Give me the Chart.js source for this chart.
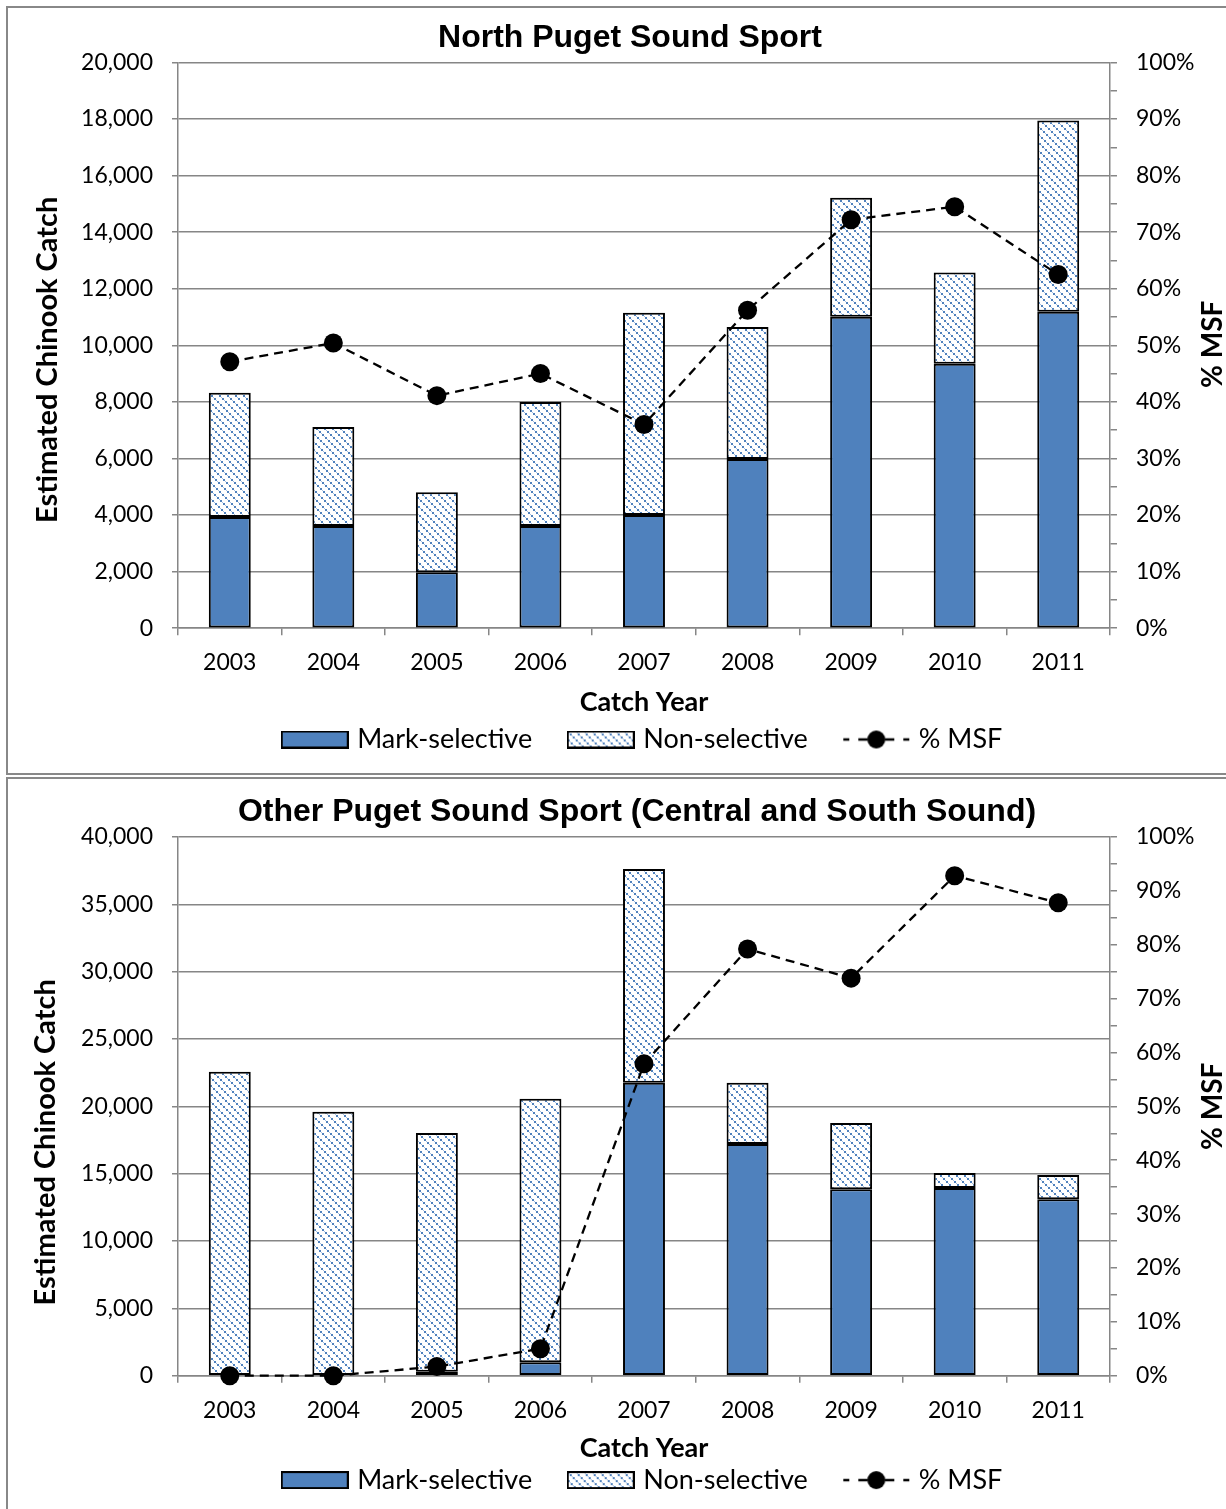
<!DOCTYPE html>
<html>
<head>
<meta charset="utf-8">
<script src="https://cdn.jsdelivr.net/npm/chart.js@4.4.1/dist/chart.umd.min.js"></script>
<style>
  html, body { margin: 0; padding: 0; background: #fff; overflow: hidden; width: 1226px; height: 1509px; }
  .panel { position: absolute; left: 6px; width: 1262px; border: 2px solid #888; background: #fff; }
  #p1 { top: 6px; height: 765px; }
  #p2 { top: 777px; height: 760px; }
  canvas { display: block; }
</style>
</head>
<body>
<div class="panel" id="p1"><canvas id="north" width="1244" height="765"></canvas></div>
<div class="panel" id="p2"><canvas id="other" width="1258" height="730"></canvas></div>
<script>
// Catch years shared by both panels
const years = ['2003', '2004', '2005', '2006', '2007', '2008', '2009', '2010', '2011'];

// North Puget Sound sport catch (fish) and share taken in mark-selective fisheries (%)
const northMarkSelective = [3930, 3610, 1980, 3610, 4000, 5980, 11010, 9350, 11190];
const northNonSelective  = [4390, 3500, 2830, 4390, 7150, 4670, 4210, 3220, 6760];
const northPctMsf        = [47.1, 50.4, 41.1, 45.0, 36.0, 56.2, 72.2, 74.5, 62.5];

// Central and South Sound sport catch (fish) and % MSF
const otherMarkSelective = [0, 0, 300, 1000, 21750, 17210, 13850, 13930, 13110];
const otherNonSelective  = [22570, 19590, 17730, 19560, 15870, 4540, 4920, 1120, 1790];
const otherPctMsf        = [0, 0, 1.7, 5.0, 57.9, 79.2, 73.8, 92.8, 87.8];

// Axis ranges: [max, step]
const northCatchAxis = [20000, 2000];
const otherCatchAxis = [40000, 5000];
const pctAxis = [100, 5, 10]; // max, tick-mark step, labelled step

const BLUE = '#4F81BD';
const GRID = '#868686';

Chart.defaults.font.family = 'Lato';
Chart.defaults.color = '#000';

// Dotted downward-diagonal hatch used for non-selective catch
function hatch(ctx) {
  const c = document.createElement('canvas');
  c.width = 24; c.height = 24;
  const g = c.getContext('2d');
  g.fillStyle = '#fff';
  g.fillRect(0, 0, 24, 24);
  for (let o = 0; o < 24; o += 8) {
    for (let k = 0; k < 8; k++) {
      const x = (o + 3 * k) % 24, y = 3 * k;
      g.fillStyle = BLUE;
      g.fillRect(x, y, 2, 2);
      g.fillRect(x - 24, y, 2, 2);
      g.fillStyle = '#a7bfdf';
      g.fillRect((x + 2) % 24, (y + 2) % 24, 1, 1);
    }
  }
  return ctx.createPattern(c, 'repeat');
}

function boxSwatch(fill) {
  const c = document.createElement('canvas');
  c.width = 68; c.height = 18;
  const g = c.getContext('2d');
  g.fillStyle = fill === 'hatch' ? hatch(g) : fill;
  g.fillRect(1, 1, 66, 16);
  g.strokeStyle = '#000';
  g.lineWidth = 2;
  g.strokeRect(1, 1, 66, 16);
  return c;
}

function lineSwatch() {
  const c = document.createElement('canvas');
  c.width = 68; c.height = 22;
  const g = c.getContext('2d');
  g.strokeStyle = '#000';
  g.lineWidth = 2.3;
  g.beginPath();
  [[1, 7], [16, 25], [43, 52], [61, 67]].forEach(([a, b]) => { g.moveTo(a, 11); g.lineTo(b, 11); });
  g.stroke();
  g.fillStyle = '#000';
  g.beginPath();
  g.arc(34, 11, 9, 0, Math.PI * 2);
  g.fill();
  return c;
}

// Rotated side titles (both read bottom-to-top)
const sideTitles = {
  id: 'sideTitles',
  afterDraw(chart, args, opts) {
    const { ctx, chartArea: a } = chart;
    ctx.save();
    ctx.fillStyle = '#000';
    ctx.textAlign = 'center';
    ctx.textBaseline = 'middle';
    for (const t of opts.items) {
      const x = t.side === 'left' ? a.left - t.dx : a.right + t.dx;
      const y = (a.top + a.bottom) / 2 + t.dy;
      ctx.font = 'bold ' + t.size + 'px Lato';
      ctx.save();
      ctx.translate(x, y);
      ctx.rotate(-Math.PI / 2);
      ctx.fillText(t.text, 0, 0);
      ctx.restore();
    }
    ctx.restore();
  }
};

const GAP = '     ';

function buildChart(id, o) {
  const canvas = document.getElementById(id);
  const ctx = canvas.getContext('2d');
  const markBox = boxSwatch(BLUE), nonBox = boxSwatch('hatch'), msfLine = lineSwatch();
  return new Chart(ctx, {
    type: 'bar',
    data: {
      labels: years,
      datasets: [
        {
          type: 'line', label: '% MSF', data: o.pct, yAxisID: 'y1', order: 0,
          borderColor: '#000', borderWidth: 2.3, borderDash: [9, 6],
          pointRadius: 9.5, pointHoverRadius: 9.5, pointBackgroundColor: '#000',
          pointBorderColor: '#000', pointBorderWidth: 0, fill: false, tension: 0, clip: false
        },
        {
          label: 'Mark-selective', data: o.mark, yAxisID: 'y', stack: 'catch', order: 1,
          backgroundColor: BLUE, borderColor: '#000', borderWidth: 2, borderSkipped: false,
          categoryPercentage: 0.81, barPercentage: 0.5
        },
        {
          label: 'Non-selective', data: o.non, yAxisID: 'y', stack: 'catch', order: 1,
          backgroundColor: hatch(ctx), borderColor: '#000', borderWidth: 2, borderSkipped: false,
          categoryPercentage: 0.81, barPercentage: 0.5
        }
      ]
    },
    options: {
      responsive: false,
      animation: false,
      devicePixelRatio: 1,
      layout: { padding: { left: 0, right: 0, top: 0, bottom: o.padBottom } },
      scales: {
        x: {
          stacked: true,
          grid: { offset: true, drawOnChartArea: false, tickLength: 7, color: GRID, lineWidth: 1.5 },
          border: { color: GRID, width: 1.5 },
          ticks: { font: { size: 23 }, padding: o.xPad, maxRotation: 0, autoSkip: false, color: '#000' },
          title: { display: true, text: 'Catch Year', font: { size: 27, weight: 'bold' }, color: '#000',
                   padding: { top: o.xtTop, bottom: o.xtBottom } }
        },
        y: {
          stacked: true, min: 0, max: o.axis[0],
          ticks: { stepSize: o.axis[1], font: { size: 23 }, padding: 19, color: '#000' },
          grid: { color: GRID, lineWidth: 1.5, tickLength: 6 },
          border: { color: GRID, width: 1.5 },
          afterFit(s) { s.width = 170; }
        },
        y1: {
          position: 'right', min: 0, max: pctAxis[0],
          ticks: {
            stepSize: pctAxis[1], autoSkip: false, font: { size: 23 }, padding: 19, color: '#000',
            callback: v => (v % pctAxis[2] === 0 ? v + '%' : '')
          },
          grid: { drawOnChartArea: false, tickLength: 7, color: GRID, lineWidth: 1.5 },
          border: { color: GRID, width: 1.5 },
          afterFit(s) { s.width = canvas.width - 1102; }
        }
      },
      plugins: {
        title: {
          display: true, text: o.title, color: '#000',
          font: { family: 'Liberation Sans', size: 32, weight: 'bold' },
          padding: { top: o.tTop, bottom: o.tBottom }
        },
        legend: {
          position: 'bottom', fullSize: false,
          labels: {
            usePointStyle: true, pointStyleWidth: 58, padding: 5,
            font: { size: 27 }, color: '#000',
            generateLabels: () => [
              { text: 'Mark-selective' + GAP, pointStyle: markBox, datasetIndex: 1, hidden: false, lineWidth: 0, fillStyle: BLUE, strokeStyle: '#000' },
              { text: 'Non-selective' + GAP, pointStyle: nonBox, datasetIndex: 2, hidden: false, lineWidth: 0, fillStyle: '#fff', strokeStyle: '#000' },
              { text: '% MSF', pointStyle: msfLine, datasetIndex: 0, hidden: false, lineWidth: 0, fillStyle: '#000', strokeStyle: '#000' }
            ]
          }
        },
        tooltip: { enabled: false },
        sideTitles: {
          items: [
            { side: 'left', text: 'Estimated Chinook Catch', size: 29, dx: o.leftDx, dy: o.leftDy },
            { side: 'right', text: '% MSF', size: 28, dx: 103, dy: o.rightDy }
          ]
        }
      }
    },
    plugins: [sideTitles]
  });
}

buildChart('north', {
  title: 'North Puget Sound Sport',
  mark: northMarkSelective, non: northNonSelective, pct: northPctMsf, axis: northCatchAxis,
  tTop: 11, tBottom: 5, xPad: 13.2, xtTop: -3, xtBottom: 2.4, padBottom: 10,
  leftDx: 130, leftDy: 14.5, rightDy: -1
});

buildChart('other', {
  title: 'Other Puget Sound Sport (Central and South Sound)',
  mark: otherMarkSelective, non: otherNonSelective, pct: otherPctMsf, axis: otherCatchAxis,
  tTop: 13.8, tBottom: 5.8, xPad: 14.2, xtTop: -6.5, xtBottom: -3, padBottom: 5.4,
  leftDx: 132, leftDy: 36, rightDy: 0
});
</script>
</body>
</html>
